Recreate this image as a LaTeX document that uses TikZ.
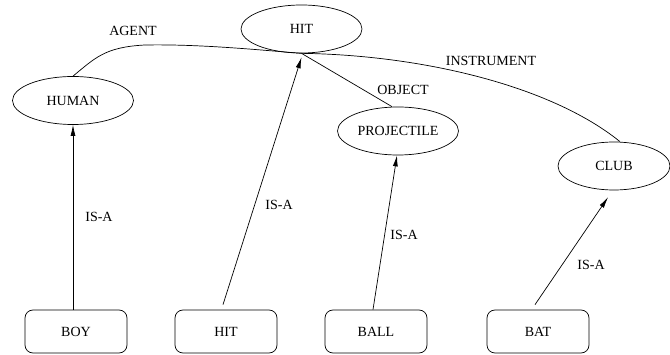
\documentclass[tikz,border=0pt]{standalone}
\usepackage{fontspec}
\setmainfont{Liberation Serif}
\usetikzlibrary{shapes.geometric,arrows.meta}

\begin{document}
\begin{tikzpicture}[x=1pt,y=-1pt,line width=0.7pt,
    every node/.style={font=\fontsize{14}{16}\selectfont},
    concept/.style={draw,ellipse,minimum width=121pt,minimum height=48pt,inner sep=0pt},
    word/.style={draw,rounded corners=8pt,minimum width=102pt,minimum height=43pt,inner sep=0pt},
    isa/.style={-{Latex[length=11pt,width=5pt]}},
    lbl/.style={inner sep=0pt}]
    \useasboundingbox (0,0) rectangle (670,355);

    % concepts
    \node[concept] (hit) at (301.5,29) {HIT};
    \node[concept] (human) at (73,100.5) {HUMAN};
    \node[concept] (proj) at (398,131) {PROJECTILE};
    \node[concept,minimum width=112pt] (club) at (614,166) {CLUB};

    % words
    \node[word] (boy) at (76,331.5) {BOY};
    \node[word] (hitw) at (226,331.5) {HIT};
    \node[word] (ball) at (376,331.5) {BALL};
    \node[word] (bat) at (538,331.5) {BAT};

    % case relations
    \draw (human.north) .. controls (95,58) and (105,47) .. (145,45) .. controls (200,44) and (260,50) .. (hit.south);
    \draw (hit.south) -- ([xshift=-6pt]proj.north);
    \draw (hit.south) .. controls (420,55) and (550,85) .. ([xshift=6pt]club.north);
    \node[lbl] (agent) at (133,31) {AGENT};
    \node[lbl] (object) at (403,90) {OBJECT};
    \node[lbl] (instr) at (491,61) {INSTRUMENT};

    % is-a links
    \draw[isa] (human.south |- boy.north) -- (human.south);
    \draw[isa] ([xshift=-3pt,yshift=5pt]hitw.north) -- ([yshift=-4pt]hit.south);
    \draw[isa] ([xshift=-3pt]ball.north) -- ([xshift=-1pt]proj.south);
    \draw[isa] ([xshift=-3pt,yshift=5pt]bat.north) -- ([xshift=-6pt,yshift=-7pt]club.south);
    \node[lbl] (isa1) at (99,217) {IS-A};
    \node[lbl] (isa2) at (279,205) {IS-A};
    \node[lbl] (isa3) at (404,235) {IS-A};
    \node[lbl] (isa4) at (591,265) {IS-A};

\end{tikzpicture}
\end{document}
